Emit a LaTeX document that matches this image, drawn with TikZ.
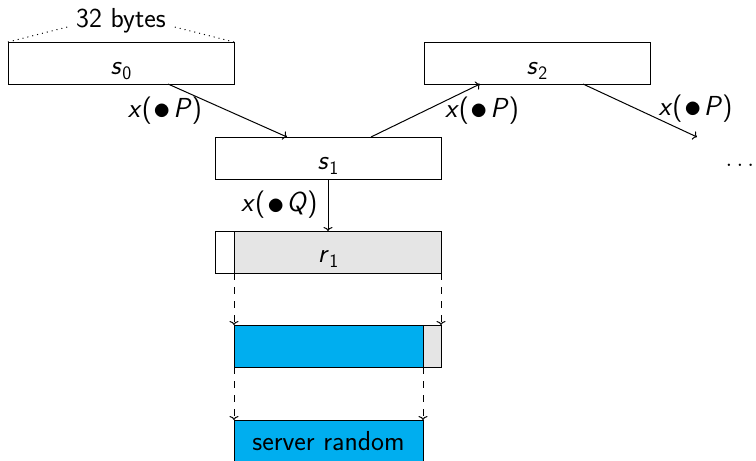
\documentclass[tikz,border=0pt]{standalone}
\usetikzlibrary{arrows.meta}
\definecolor{srvblue}{RGB}{0,174,239}
\newcommand\subv[2]{\textit{#1}\kern0.5pt\raisebox{-0.2em}{\fontsize{19}{20}\selectfont #2}}
\newcommand\xlab[1]{\textit{x}(\kern2pt\raisebox{-0.08em}{\scalebox{1.4}{$\bullet$}}\kern2pt\textit{#1})}
\begin{document}
\begin{tikzpicture}[x=1pt,y=-1pt, line width=1pt,
  every node/.style={font=\fontsize{27.5}{32}\selectfont\sffamily},
  box/.style={draw, minimum width=226pt, minimum height=42pt, inner sep=0pt, outer sep=0pt},
  subbox/.style={box, text height=#1, text depth=0pt},
  arr/.style={-{To[length=4pt,width=9pt]}},
  darr/.style={arr, dash pattern=on 7pt off 7pt},
  lab/.style={inner sep=0pt},
  dotline/.style={dash pattern=on 1pt off 4pt}]
\useasboundingbox (0,0) rectangle (756,461);
% top row
\node (bytes) at (121,21) {32 bytes};
\node[subbox=22pt] (s0) at (121,63) {\subv{s}{0}};
\node[subbox=22pt] (s2) at (537,63) {\subv{s}{2}};
\node[subbox=22pt] (s1) at (328,158) {\subv{s}{1}};
\draw[dotline] (s0.north west) -- ([xshift=-5pt,yshift=-6pt]bytes.west);
\draw[dotline] (s0.north east) -- ([xshift=5pt,yshift=-6pt]bytes.east);
% r1
\node[box, fill=gray!20, minimum width=207pt] (r1g) at (337.5,252) {};
\node[subbox=20pt] (r1) at (328,252) {\subv{r}{1}};
% blue
\node[box, fill=srvblue, minimum width=189pt] (b) at (328.5,346) {};
\node[box, fill=gray!20, minimum width=18pt] (g) at (432,346) {};
\node[box, fill=srvblue, minimum width=189pt] (sr) at (328.5,441) {server random};
% continuation
\coordinate (cont) at (697,137);
\node[anchor=base] (dots) at (740,166) {$\ldots$};
% arrows
\draw[arr] ([xshift=47pt]s0.south) -- node[midway, lab, anchor=east, xshift=-25pt] (l1) {\xlab{P}} ([xshift=-41pt]s1.north);
\draw[arr] ([xshift=43pt]s1.north) -- node[midway, lab, anchor=west, xshift=19pt] (l2) {\xlab{P}} ([xshift=-57pt]s2.south);
\draw[arr] ([xshift=46pt]s2.south) -- node[midway, lab, anchor=west, xshift=18pt, yshift=2pt] (l3) {\xlab{P}} (cont);
\draw[arr] (s1.south) -- node[midway, lab, anchor=east, xshift=-10pt] (l4) {\xlab{Q}} (r1.north);
% dashed
\draw[darr] (r1g.south west) -- (b.north west);
\draw[darr] (r1g.south east) -- (g.north east);
\draw[darr] (b.south west) -- (sr.north west);
\draw[darr] (b.south east) -- (sr.north east);
\end{tikzpicture}
\end{document}
